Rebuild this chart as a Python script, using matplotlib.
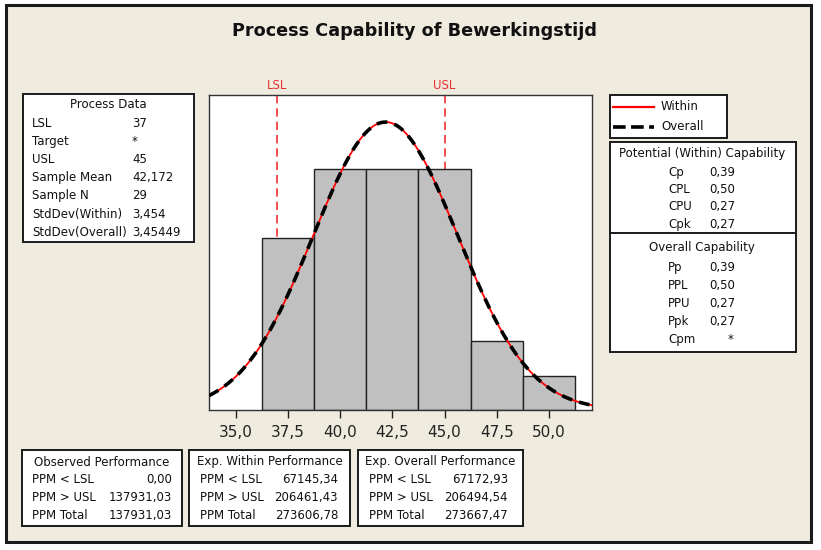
import numpy as np
import matplotlib.pyplot as plt
from matplotlib.patches import Rectangle
from matplotlib.lines import Line2D
from matplotlib.ticker import FuncFormatter

# %% dados
bin_centers = [37.5, 40.0, 42.5, 45.0, 47.5, 50.0]
bin_counts = [5, 7, 7, 7, 2, 1]
bin_width = 2.5
lsl, usl = 37, 45
mean = 42.172
n = 29
sd_within = 3.454
sd_overall = 3.45449
xticks = [35.0, 37.5, 40.0, 42.5, 45.0, 47.5, 50.0]

process_labels = ['LSL', 'Target', 'USL', 'Sample Mean', 'Sample N', 'StdDev(Within)', 'StdDev(Overall)']
process_values = ['37', '*', '45', '42,172', '29', '3,454', '3,45449']

within_labels = ['Cp', 'CPL', 'CPU', 'Cpk']
within_values = ['0,39', '0,50', '0,27', '0,27']
overall_labels = ['Pp', 'PPL', 'PPU', 'Ppk', 'Cpm']
overall_values = ['0,39', '0,50', '0,27', '0,27', '*']

perf_titles = ['Observed Performance', 'Exp. Within Performance', 'Exp. Overall Performance']
perf_labels = ['PPM < LSL', 'PPM > USL', 'PPM Total']
perf_values = [['0,00', '137931,03', '137931,03'],
               ['67145,34', '206461,43', '273606,78'],
               ['67172,93', '206494,54', '273667,47']]

# %% figura
W, H = 821, 550
fig = plt.figure(figsize=(W / 100, H / 100), dpi=100, facecolor='white')


def fx(x):
    return x / W


def fy(y):
    return 1 - y / H


def caixa(x0, y0, x1, y1, fc='white', lw=1.4, z=-1):
    fig.patches.append(Rectangle((fx(x0), fy(y1)), fx(x1) - fx(x0), fy(y0) - fy(y1),
                                 transform=fig.transFigure, facecolor=fc,
                                 edgecolor='#1a1a1a', lw=lw, zorder=z))


def texto(x, y, s, ha='left', **kw):
    kw.setdefault('fontsize', 8.5)
    kw.setdefault('color', '#111111')
    fig.text(fx(x), fy(y), s, ha=ha, va='center', **kw)


# fundo
caixa(6, 5, 811, 542, fc='#EFEBDF', lw=2.2, z=-2)

fig.text(fx(414), fy(31), 'Process Capability of Bewerkingstijd', ha='center', va='center',
         fontsize=12.7, fontweight='bold', color='#111111')

# %% histograma
ax = fig.add_axes([fx(209), fy(410), fx(592) - fx(209), fy(95) - fy(410)])
ax.set_facecolor('white')
ax.bar(bin_centers, bin_counts, width=bin_width, color='#C0C0C0', edgecolor='#222222',
       lw=1.0, zorder=2)

ax.set_xlim(33.72, 52.06)
ax.set_ylim(0, 9.16)

for lim, nome in [(lsl, 'LSL'), (usl, 'USL')]:
    ax.axvline(lim, color='#F03030', ls=(0, (5, 3)), lw=1.2, zorder=1)
    ax.text(lim, 9.16 + 0.28, nome, color='#E83030', ha='center', va='center',
            fontsize=8.5, clip_on=False)

xs = np.linspace(33.72, 52.06, 400)
esc = n * bin_width
y_within = esc * np.exp(-0.5 * ((xs - mean) / sd_within) ** 2) / (sd_within * np.sqrt(2 * np.pi))
y_overall = esc * np.exp(-0.5 * ((xs - mean) / sd_overall) ** 2) / (sd_overall * np.sqrt(2 * np.pi))
ax.plot(xs, y_within, color='#FF0000', lw=1.3, zorder=3)
ax.plot(xs, y_overall, color='black', lw=2.6, ls=(0, (3, 2)), zorder=4)

ax.set_xticks(xticks)
ax.xaxis.set_major_formatter(FuncFormatter(lambda v, p: f'{v:.1f}'.replace('.', ',')))
ax.tick_params(axis='x', direction='out', length=6, width=1, labelsize=11, colors='#222222', pad=5)
ax.set_yticks([])
for s in ax.spines.values():
    s.set_color('#333333')
    s.set_linewidth(1.0)

# %% process data
caixa(23, 94, 194, 242)
texto(108, 105, 'Process Data', ha='center')
for i, (lab, val) in enumerate(zip(process_labels, process_values)):
    y = 123.5 + i * 18.1
    texto(32, y, lab)
    texto(132, y, val)

# %% legenda
caixa(610, 95, 727, 138)
fig.add_artist(Line2D([fx(613), fx(654)], [fy(106.5), fy(106.5)], color='#FF0000', lw=1.6))
fig.add_artist(Line2D([fx(613), fx(654)], [fy(126.5), fy(126.5)], color='black', lw=2.6,
                      ls=(0, (3.5, 1.5))))
texto(661, 106, 'Within')
texto(661, 126, 'Overall')

# %% capability
caixa(610, 142, 796, 352)
fig.add_artist(Line2D([fx(610), fx(796)], [fy(233), fy(233)], color='#1a1a1a', lw=1.4))
texto(702, 154, 'Potential (Within) Capability', ha='center')
for i, (lab, val) in enumerate(zip(within_labels, within_values)):
    y = 172.5 + i * 17.2
    texto(668, y, lab)
    texto(709, y, val)
texto(702, 247, 'Overall Capability', ha='center')
for i, (lab, val) in enumerate(zip(overall_labels, overall_values)):
    y = 268 + i * 17.8
    texto(668, y, lab)
    if val == '*':
        texto(731, y, val, ha='center')
    else:
        texto(709, y, val)

# %% performance
caixas = [(22, 182, 32, 172), (189, 350, 200, 338), (358, 523, 369, 508)]
for (x0, x1, xl, xr), titulo, vals in zip(caixas, perf_titles, perf_values):
    caixa(x0, 450, x1, 526)
    texto((x0 + x1) / 2, 462, titulo, ha='center')
    for j, (lab, val) in enumerate(zip(perf_labels, vals)):
        y = 479.5 + j * 17.8
        texto(xl, y, lab)
        texto(xr, y, val, ha='right')

fig.savefig('out.png', dpi=100, facecolor=fig.get_facecolor())
